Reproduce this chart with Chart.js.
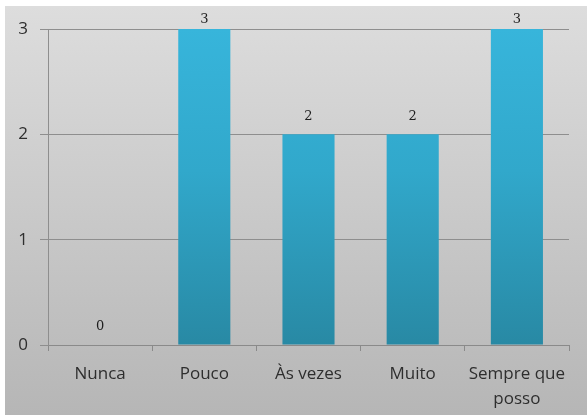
<!DOCTYPE html>
<html>
<head>
<meta charset="utf-8">
<script src="https://cdn.jsdelivr.net/npm/chart.js@4/dist/chart.umd.min.js"></script>
<style>
  html, body { margin: 0; padding: 0; background: #fff; }
  #wrap { width: 587px; height: 415px; position: relative; }
</style>
</head>
<body>
<div id="wrap"><canvas id="chart"></canvas></div>
<script>
const categories = ["Nunca", "Pouco", "Às vezes", "Muito", ["Sempre que", "posso"]];
const values = [0, 3, 2, 2, 3];
const yTicks = [0, 1, 2, 3];

// grey panel behind the plot, leaving a thin white margin top/left
const panelBackground = {
  id: "panelBackground",
  beforeDraw(chart) {
    const { ctx, width, height } = chart;
    ctx.save();
    ctx.fillStyle = "#ffffff";
    ctx.fillRect(0, 0, width, height);
    const g = ctx.createLinearGradient(0, 6, 0, height);
    g.addColorStop(0, "#dddddd");
    g.addColorStop(1, "#b6b6b6");
    ctx.fillStyle = g;
    ctx.fillRect(5, 6, width - 5, height - 6);
    ctx.restore();
  }
};

// value printed above each bar
const valueLabels = {
  id: "valueLabels",
  afterDatasetsDraw(chart) {
    const { ctx } = chart;
    const meta = chart.getDatasetMeta(0);
    ctx.save();
    ctx.font = "13px 'DejaVu Serif', serif";
    ctx.fillStyle = "#1e1e1e";
    ctx.textAlign = "center";
    ctx.textBaseline = "middle";
    meta.data.forEach((bar, i) => {
      const y = Math.max(bar.y - 18, 20);
      ctx.fillText(String(values[i]), bar.x, y);
    });
    ctx.restore();
  }
};

const ctx = document.getElementById("chart");

new Chart(ctx, {
  type: "bar",
  data: {
    labels: categories,
    datasets: [
      {
        data: values,
        backgroundColor: (c) => {
          const area = c.chart.chartArea;
          if (!area) return "#31a6c8";
          const g = c.chart.ctx.createLinearGradient(0, area.top, 0, area.bottom);
          g.addColorStop(0, "#37b5db");
          g.addColorStop(0.45, "#31a8cb");
          g.addColorStop(1, "#2889a4");
          return g;
        },
        borderWidth: 0,
        categoryPercentage: 1,
        barPercentage: 0.5
      }
    ]
  },
  options: {
    responsive: true,
    maintainAspectRatio: false,
    animation: false,
    layout: { padding: { left: 5, right: 18, top: 29, bottom: 0 } },
    plugins: {
      legend: { display: false },
      tooltip: { enabled: false }
    },
    scales: {
      x: {
        grid: {
          offset: true,
          drawOnChartArea: false,
          tickLength: 6,
          color: "#8a8a8a"
        },
        border: { color: "#8a8a8a" },
        ticks: {
          color: "#2e2e2e",
          padding: 10,
          font: { family: "'Open Sans', sans-serif", size: 17, lineHeight: 1.5 }
        },
        afterFit: (scale) => { scale.height = 70; }
      },
      y: {
        min: 0,
        max: 3,
        grid: {
          color: "#8e8e8e",
          tickLength: 8
        },
        border: { color: "#8e8e8e" },
        ticks: {
          stepSize: 1,
          color: "#2e2e2e",
          padding: 12,
          font: { family: "'Open Sans', sans-serif", size: 17 },
          callback: (v) => (yTicks.includes(v) ? v : null)
        },
        afterFit: (scale) => { scale.width = 43; }
      }
    }
  },
  plugins: [panelBackground, valueLabels]
});
</script>
</body>
</html>
